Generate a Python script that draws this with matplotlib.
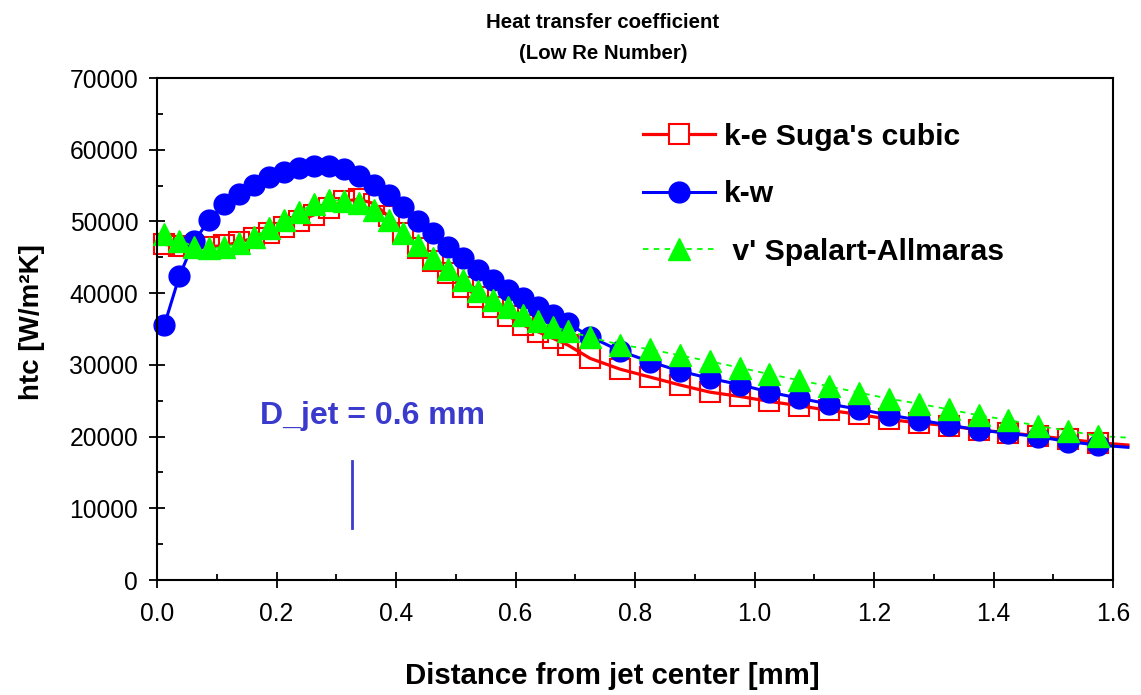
import matplotlib
matplotlib.use("Agg")
import matplotlib.pyplot as plt
from matplotlib.lines import Line2D
from matplotlib.ticker import MultipleLocator

plt.rcParams['font.family'] = ['Liberation Sans', 'DejaVu Sans']

# distance from jet center [mm], cell centres
x_mm = [0.0125, 0.0375, 0.0625, 0.0875, 0.1125, 0.1375, 0.1625, 0.1875, 0.2125, 0.2375,
        0.2625, 0.2875, 0.3125, 0.3375, 0.3625, 0.3875, 0.4125, 0.4375, 0.4625, 0.4875,
        0.5125, 0.5375, 0.5625, 0.5875, 0.6125, 0.6375, 0.6625, 0.6875,
        0.725, 0.775, 0.825, 0.875, 0.925, 0.975, 1.025, 1.075, 1.125, 1.175,
        1.225, 1.275, 1.325, 1.375, 1.425, 1.475, 1.525, 1.575]
x_end = 1.625

htc_ke = [46800, 46600, 46500, 46450, 46650, 47100, 47700, 48400, 49250, 50100,
          50900, 51900, 52800, 53100, 52500, 50700, 48400, 46250, 44480, 42770,
          40900, 39510, 38110, 36860, 35560, 34620, 33700, 32770,
          30900, 29400, 28300, 27200, 26200, 25600, 24900, 24300, 23650, 23100,
          22400, 21890, 21520, 20920, 20540, 20080, 19620, 19150]
end_ke = 18820

htc_kw = [35600, 42400, 47300, 50200, 52400, 53800, 55100, 56150, 56850, 57400,
          57700, 57750, 57300, 56400, 55080, 53690, 52050, 50100, 48340, 46480,
          44860, 43230, 41830, 40440, 39280, 38110, 36950, 35800,
          33930, 31930, 30440, 29140, 28120, 27250, 26200, 25340, 24540, 23800,
          23010, 22310, 21610, 20920, 20460, 19990, 19290, 18820]
end_kw = 18500

htc_sa = [48300, 47300, 46500, 46250, 46400, 47040, 47870, 49040, 50200, 51360,
          52430, 52930, 52900, 52520, 51630, 50200, 48450, 46740, 44930, 43330,
          41830, 40340, 39040, 38020, 36910, 36070, 35320, 34720,
          33840, 32810, 32170, 31330, 30490, 29620, 28700, 27850, 27000, 26130,
          25280, 24580, 23800, 22970, 22310, 21470, 20820, 20080]
end_sa = 19850

labels = ["k-e Suga's cubic", "k-w", " v' Spalart-Allmaras"]

djet_x = 0.326
djet_y = [7250, 16600]
djet_col = '#3a3acc'

fig = plt.figure(figsize=(11.41, 6.95), dpi=100)
ax = fig.add_axes([157 / 1141, 1 - 580 / 695, (1113 - 157) / 1141, (580 - 78) / 695])

xx = x_mm + [x_end]
n = len(x_mm)
ax.plot(xx, htc_ke + [end_ke], color='red', lw=2.3, marker='s', ms=14,
        mfc='none', mec='red', mew=1.5, markevery=list(range(n)), clip_on=False)
ax.plot(xx, htc_kw + [end_kw], color='blue', lw=2.2, marker='o', ms=15,
        mfc='blue', mec='blue', markevery=list(range(n)), clip_on=False)
ax.plot(xx, htc_sa + [end_sa], color='#00ff00', lw=1.3, ls=(0, (3, 3)), marker='^',
        ms=16, mfc='#00ff00', mec='#00ff00', markevery=list(range(n)), clip_on=False)

ax.plot([djet_x, djet_x], djet_y, color=djet_col, lw=2)
ax.text(0.3615, 22900, 'D_jet = 0.6 mm', color=djet_col, fontsize=23,
        fontweight='bold', ha='center', va='center')

ax.set_xlim(0, 1.6)
ax.set_ylim(0, 70000)
ax.xaxis.set_major_locator(MultipleLocator(0.2))
ax.xaxis.set_minor_locator(MultipleLocator(0.1))
ax.yaxis.set_major_locator(MultipleLocator(10000))
ax.yaxis.set_minor_locator(MultipleLocator(5000))
ax.xaxis.set_major_formatter(plt.FuncFormatter(lambda v, p: '%.1f' % v))
ax.tick_params(which='major', direction='inout', length=11, width=1.3,
               labelsize=17.7, pad=8)
ax.tick_params(axis='x', which='major', pad=10)
ax.tick_params(which='minor', direction='in', length=4.5, width=1.3)
ax.tick_params(top=False, right=False, which='both')
for s in ax.spines.values():
    s.set_linewidth(1.5)

ax.set_xlabel('Distance from jet center [mm]', fontsize=21.2, fontweight='bold')
ax.set_ylabel('htc [W/m²K]', fontsize=20, fontweight='bold')
ax.xaxis.set_label_coords(0.476, -0.163)
ax.yaxis.set_label_coords(-0.117, 0.513)

fig.text(0.5285, 0.946, 'Heat transfer coefficient\n(Low Re Number)', ha='center',
         va='center', fontsize=14.7, fontweight='bold', linespacing=1.8)

handles = [
    Line2D([], [], color='red', lw=2.3, marker='s', ms=14, mfc='white', mec='red', mew=1.5),
    Line2D([], [], color='blue', lw=2.2, marker='o', ms=15, mfc='blue', mec='blue'),
    Line2D([], [], color='#00ff00', lw=1.3, ls=(0, (3, 3)), marker='^', ms=16,
           mfc='#00ff00', mec='#00ff00'),
]
leg = ax.legend(handles, labels, loc='upper left', bbox_to_anchor=(0.508, 0.911),
                frameon=False, prop={'weight': 'bold', 'size': 21.7},
                numpoints=1, handlelength=2.4, handletextpad=0.3, labelspacing=0.98,
                borderpad=0, borderaxespad=0)

fig.savefig('out.png', dpi=100)
